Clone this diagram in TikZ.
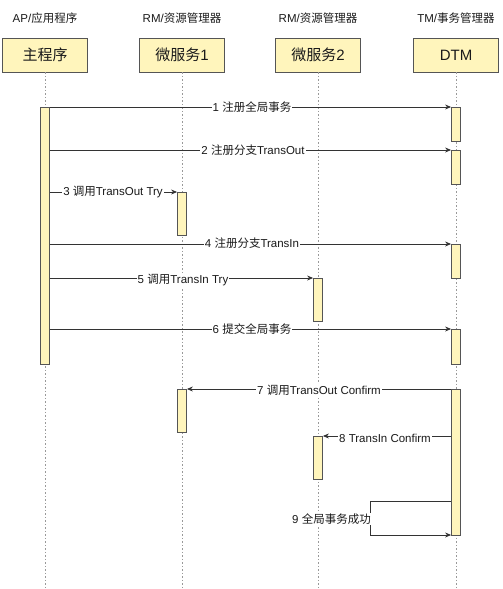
\documentclass[tikz,border=0pt]{standalone}
\usepackage{fontspec}
\setmainfont{Liberation Sans}
\newfontfamily\cjk{Noto Sans CJK SC}
\usetikzlibrary{arrows.meta,calc}
\definecolor{boxfill}{HTML}{FFF5BC}
\definecolor{boxline}{HTML}{555555}
\definecolor{txt}{HTML}{1A1A1A}
\begin{document}
\begin{tikzpicture}[x=1pt,y=-1pt,
  header/.style={font=\fontsize{11.5}{13}\selectfont, text=txt, inner sep=0pt},
  partbox/.style={draw=boxline, fill=boxfill, line width=0.8pt, minimum width=85pt, minimum height=34pt, font=\fontsize{15}{17}\selectfont, text=txt, inner sep=0pt},
  lifeline/.style={draw=gray!80, line width=0.8pt, dash pattern=on 1.5pt off 2pt},
  actbar/.style={draw=boxline, fill=boxfill, line width=0.8pt, minimum width=9pt, inner sep=0pt, anchor=north},
  msg/.style={draw=black!80, line width=0.8pt, -{Stealth[length=6pt,width=5pt]}},
  lbl/.style={fill=white, font=\fontsize{11.5}{13}\selectfont, text=txt, inner sep=1pt}
]
\useasboundingbox (0,0) rectangle (503,589);
% headers
\node[header] (h1) at (45,18) {AP/{\cjk 应用程序}};
\node[header] (h2) at (182,18) {RM/{\cjk 资源管理器}};
\node[header] (h3) at (318,18) {RM/{\cjk 资源管理器}};
\node[header] (h4) at (456,18) {TM/{\cjk 事务管理器}};
% participant boxes
\node[partbox] (p1) at (45,55) {\cjk 主程序};
\node[partbox] (p2) at (182,55) {{\cjk 微服务}1};
\node[partbox] (p3) at (318,55) {{\cjk 微服务}2};
\node[partbox] (p4) at (456,55) {DTM};
% lifeline ends
\coordinate (e1) at (45,589);
\coordinate (e2) at (182,589);
\coordinate (e3) at (318,589);
\coordinate (e4) at (456,589);
\draw[lifeline] (p1.south) -- (e1);
\draw[lifeline] (p2.south) -- (e2);
\draw[lifeline] (p3.south) -- (e3);
\draw[lifeline] (p4.south) -- (e4);
% activation bars
\node[actbar, minimum height=257pt] (m) at (45,107) {};
\node[actbar, minimum height=34pt] (d1) at (456,107) {};
\node[actbar, minimum height=34pt] (d2) at (456,150) {};
\node[actbar, minimum height=34pt] (d3) at (456,244) {};
\node[actbar, minimum height=35pt] (d4) at (456,329) {};
\node[actbar, minimum height=146pt] (d5) at (456,389) {};
\node[actbar, minimum height=43pt] (s1a) at (182,192) {};
\node[actbar, minimum height=43pt] (s1b) at (182,389) {};
\node[actbar, minimum height=43pt] (s2a) at (318,278) {};
\node[actbar, minimum height=43pt] (s2b) at (318,436) {};
% messages
\draw[msg] (m.east |- d1.north) -- (d1.north west);
\node[lbl] (l1) at (252,107) {1 {\cjk 注册全局事务}};
\draw[msg] (m.east |- d2.north) -- (d2.north west);
\node[lbl] (l2) at (253,150) {2 {\cjk 注册分支}TransOut};
\draw[msg] (m.east |- s1a.north) -- (s1a.north west);
\node[lbl] (l3) at (113,192) {3 {\cjk 调用}TransOut Try};
\draw[msg] (m.east |- d3.north) -- (d3.north west);
\node[lbl] (l4) at (252,243) {4 {\cjk 注册分支}TransIn};
\draw[msg] (m.east |- s2a.north) -- (s2a.north west);
\node[lbl] (l5) at (183,280) {5 {\cjk 调用}TransIn Try};
\draw[msg] (m.east |- d4.north) -- (d4.north west);
\node[lbl] (l6) at (252,329) {6 {\cjk 提交全局事务}};
\draw[msg] (d5.north west) -- (s1b.north east);
\node[lbl] (l7) at (319,390) {7 {\cjk 调用}TransOut Confirm};
\draw[msg] (d5.west |- s2b.north) -- (s2b.north east);
\node[lbl] (l8) at (385,438) {8 TransIn Confirm};
\coordinate (c9a) at (370,501);
\coordinate (c9b) at (370,535);
\draw[msg] (d5.west |- c9a) -- (c9a) -- (c9b) -- (d5.west |- c9b);
\node[lbl, anchor=east] (l9) at (372,519) {9 {\cjk 全局事务成功}};
\end{tikzpicture}
\end{document}
